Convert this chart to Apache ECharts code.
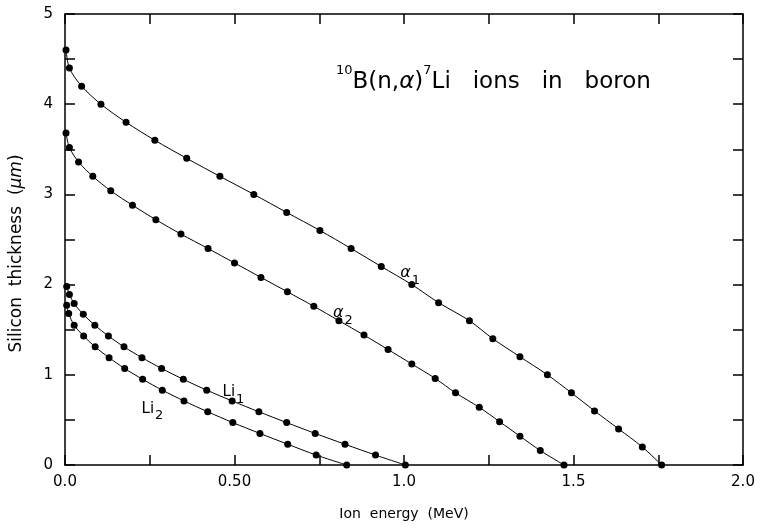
<!DOCTYPE html>
<html>
<head>
<meta charset="utf-8">
<script src="https://cdn.jsdelivr.net/npm/echarts@6/dist/echarts.min.js"></script>
<style>html,body{margin:0;padding:0;background:#fff;}#c{width:761px;height:529px;}</style>
</head>
<body>
<div id="c"></div>
<script>
// Ion energy (MeV) values per series
const alpha1Energy = [0.003, 0.013, 0.049, 0.106, 0.180, 0.265, 0.359, 0.457, 0.557, 0.654, 0.752, 0.844, 0.933, 1.023, 1.102, 1.193, 1.262, 1.342, 1.423, 1.494, 1.562, 1.633, 1.703, 1.760];
// Silicon thickness (um)
const alpha1Thick = [4.60, 4.40, 4.20, 4.00, 3.80, 3.60, 3.40, 3.20, 3.00, 2.80, 2.60, 2.40, 2.20, 2.00, 1.80, 1.60, 1.40, 1.20, 1.00, 0.80, 0.60, 0.40, 0.20, 0.00];

const alpha2Energy = [0.003, 0.013, 0.040, 0.082, 0.135, 0.199, 0.268, 0.342, 0.422, 0.500, 0.578, 0.656, 0.734, 0.808, 0.882, 0.953, 1.023, 1.092, 1.152, 1.222, 1.282, 1.342, 1.402, 1.472];
const alpha2Thick = [3.68, 3.52, 3.36, 3.20, 3.04, 2.88, 2.72, 2.56, 2.40, 2.24, 2.08, 1.92, 1.76, 1.60, 1.44, 1.28, 1.12, 0.96, 0.80, 0.64, 0.48, 0.32, 0.16, 0.00];

const li1Energy = [0.005, 0.013, 0.027, 0.054, 0.088, 0.128, 0.174, 0.227, 0.285, 0.349, 0.418, 0.493, 0.572, 0.654, 0.738, 0.826, 0.916, 1.004];
const li1Thick = [1.98, 1.89, 1.79, 1.67, 1.55, 1.43, 1.31, 1.19, 1.07, 0.95, 0.83, 0.71, 0.59, 0.47, 0.35, 0.23, 0.11, 0.00];

const li2Energy = [0.005, 0.011, 0.027, 0.055, 0.089, 0.130, 0.176, 0.229, 0.287, 0.351, 0.421, 0.495, 0.575, 0.657, 0.741, 0.831];
const li2Thick = [1.77, 1.68, 1.55, 1.43, 1.31, 1.19, 1.07, 0.95, 0.83, 0.71, 0.59, 0.47, 0.35, 0.23, 0.11, 0.00];

const xTickLabels = {0: '0.0', 0.5: '0.50', 1: '1.0', 1.5: '1.5', 2: '2.0'};
const yTickLabels = {0: '0', 1: '1', 2: '2', 3: '3', 4: '4', 5: '5'};

// series label anchors (energy, thickness)
const labelAnchors = [
  {name: 'a1', x: 1.018, y: 2.14, text: '{g|α}{s|1}'},
  {name: 'a2', x: 0.82, y: 1.70, text: '{g|α}{s|2}'},
  {name: 'l1', x: 0.497, y: 0.82, text: '{m|Li}{s|1}'},
  {name: 'l2', x: 0.258, y: 0.64, text: '{m|Li}{s|2}'}
];

const FONT = 'DejaVu Sans';
const zip = (a, b) => a.map((v, i) => [v, b[i]]);

const chart = echarts.init(document.getElementById('c'), null, {renderer: 'canvas'});

function axisBase() {
  return {
    min: 0,
    axisLine: {show: true, onZero: false, lineStyle: {color: '#000', width: 1.5}},
    axisTick: {show: true, inside: true, length: 10, lineStyle: {color: '#000', width: 1.5}},
    minorTick: {show: true, splitNumber: 2, length: 10, lineStyle: {color: '#000', width: 1.5}},
    splitLine: {show: false},
    minorSplitLine: {show: false}
  };
}

function lineSeries(name, e, t) {
  return {
    name: name,
    type: 'line',
    xAxisIndex: 0, yAxisIndex: 0,
    data: zip(e, t),
    smooth: 0.3,
    symbol: 'circle',
    symbolSize: 7,
    showSymbol: true,
    itemStyle: {color: '#000'},
    lineStyle: {color: '#000', width: 1},
    emphasis: {disabled: true},
    clip: false,
    z: 3
  };
}

const richLabel = {
  g: {fontFamily: FONT, fontSize: 16, fontStyle: 'italic', color: '#000', lineHeight: 18, verticalAlign: 'bottom'},
  m: {fontFamily: FONT, fontSize: 15, color: '#000', lineHeight: 18, verticalAlign: 'bottom'},
  s: {fontFamily: FONT, fontSize: 13, color: '#000', lineHeight: 10, verticalAlign: 'bottom', padding: [0, 0, -6, 1]}
};

const option = {
  animation: false,
  backgroundColor: '#fff',
  textStyle: {fontFamily: FONT},
  grid: {left: 65, right: 18, top: 14, bottom: 64, containLabel: false},
  xAxis: [
    Object.assign(axisBase(), {
      type: 'value', position: 'bottom', max: 2, interval: 0.5,
      name: 'Ion  energy  (MeV)', nameLocation: 'middle', nameGap: 42,
      nameTextStyle: {fontFamily: FONT, fontSize: 14, color: '#000'},
      axisLabel: {show: true, margin: 10, color: '#000', fontFamily: FONT, fontSize: 15,
        formatter: v => xTickLabels[v] !== undefined ? xTickLabels[v] : ''}
    }),
    Object.assign(axisBase(), {
      type: 'value', position: 'top', max: 2, interval: 0.5,
      axisLabel: {show: false}
    })
  ],
  yAxis: [
    Object.assign(axisBase(), {
      type: 'value', position: 'left', max: 5, interval: 1,
      name: 'Silicon  thickness  ({i|μm})', nameLocation: 'middle', nameGap: 40, nameRotate: 90,
      nameTextStyle: {fontFamily: FONT, fontSize: 17, color: '#000', padding: [0, 28, 0, 0],
        rich: {i: {fontFamily: FONT, fontSize: 17, fontStyle: 'italic', color: '#000'}}},
      axisLabel: {show: true, margin: 12, color: '#000', fontFamily: FONT, fontSize: 15,
        formatter: v => yTickLabels[v] !== undefined ? yTickLabels[v] : ''}
    }),
    Object.assign(axisBase(), {
      type: 'value', position: 'right', max: 5, interval: 1,
      axisLabel: {show: false}
    })
  ],
  title: {
    text: '{sup|10}{m|B(n,}{g|α}{m|)}{sup|7}{m|Li   ions   in   boron}',
    left: 331, top: 59,
    textStyle: {
      fontWeight: 'normal',
      rich: {
        m: {fontFamily: FONT, fontSize: 23, fontWeight: 'normal', color: '#000', lineHeight: 30, verticalAlign: 'bottom'},
        g: {fontFamily: FONT, fontSize: 23, fontWeight: 'normal', fontStyle: 'italic', color: '#000', lineHeight: 30, verticalAlign: 'bottom'},
        sup: {fontFamily: FONT, fontSize: 13, fontWeight: 'normal', color: '#000', lineHeight: 14, verticalAlign: 'top'}
      }
    }
  },
  series: [
    lineSeries('alpha1', alpha1Energy, alpha1Thick),
    lineSeries('alpha2', alpha2Energy, alpha2Thick),
    lineSeries('Li1', li1Energy, li1Thick),
    lineSeries('Li2', li2Energy, li2Thick),
    {
      type: 'scatter',
      xAxisIndex: 0, yAxisIndex: 0,
      data: labelAnchors.map(a => ({value: [a.x, a.y], label: {formatter: a.text}})),
      symbolSize: 1,
      itemStyle: {color: 'rgba(0,0,0,0)', opacity: 1},
      label: {show: true, position: 'inside', color: '#000', opacity: 1, rich: richLabel},
      emphasis: {disabled: true},
      silent: true,
      z: 5
    }
  ]
};
chart.setOption(option);
</script>
</body>
</html>
